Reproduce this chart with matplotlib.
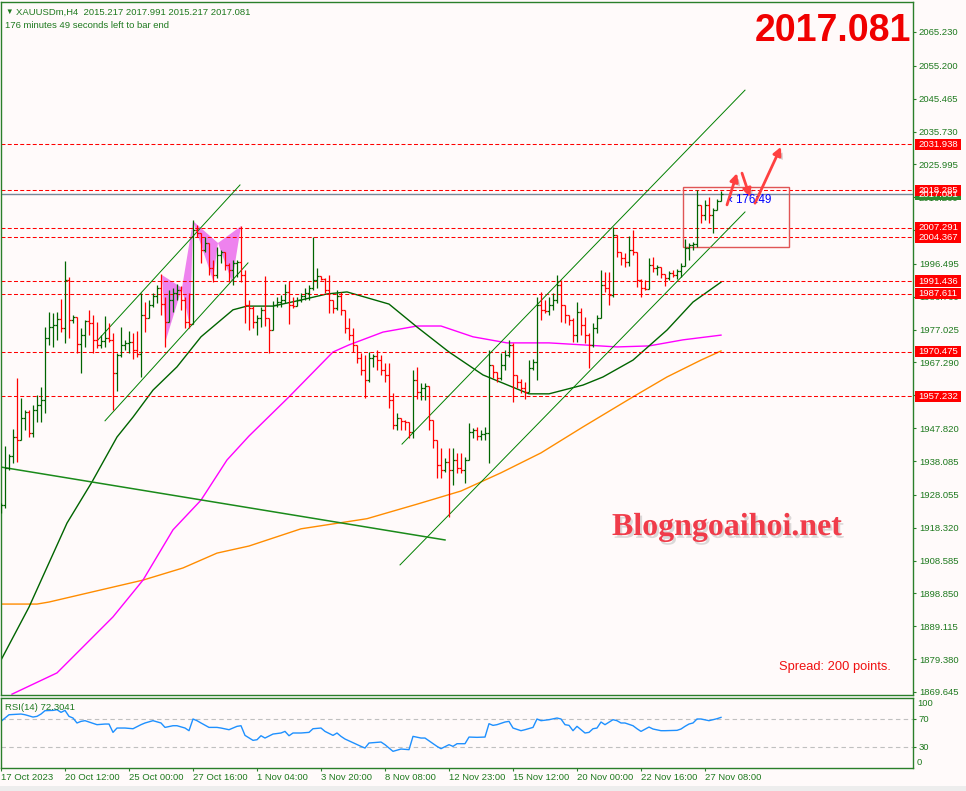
import matplotlib
matplotlib.use('Agg')
import matplotlib.pyplot as plt
import matplotlib.patheffects as pe
from matplotlib.patches import Polygon, Rectangle
from matplotlib.transforms import blended_transform_factory
import numpy as np

plt.rcParams['font.family'] = ['Liberation Sans', 'DejaVu Sans']

BG = '#FFFAFA'
FRAME = '#2A7F2A'
TXT = '#1F7A1F'
UP = '#006400'
DOWN = '#FF0000'

# XAUUSDm H4 bars (open = previous close)
first_open = 1923.6
highs = [1925.7, 1942.5, 1940.2, 1947.6, 1962.7, 1956.8, 1953.2, 1953.2, 1954.7, 1957.7,
         1960.0, 1977.8, 1982.3, 1982.0, 1982.3, 1986.1, 1997.4, 1992.6, 1981.4, 1980.8,
         1977.5, 1979.9, 1982.9, 1981.4, 1979.3, 1975.4, 1981.1, 1979.0, 1976.0, 1970.1,
         1977.8, 1974.0, 1976.6, 1976.0, 1976.6, 1987.9, 1985.2, 1985.8, 1987.9, 1990.3,
         1993.5, 1986.7, 1988.8, 1989.4, 1990.5, 1990.0, 1986.7, 1987.9, 2009.5, 2008.0,
         2005.7, 2004.5, 2000.6, 1997.7, 2001.5, 2000.6, 2000.0, 1996.8, 1997.7, 1997.7,
         2007.7, 1994.7, 1985.8, 1984.0, 1981.4, 1983.7, 1992.9, 1979.9, 1985.5, 1986.7,
         1987.3, 1990.5, 1991.4, 1986.7, 1986.7, 1987.9, 1989.4, 1990.3, 2004.5, 1995.3,
         1992.9, 1992.3, 1993.2, 1985.8, 1988.8, 1988.2, 1982.9, 1980.5, 1977.5, 1972.5,
         1970.1, 1969.5, 1970.4, 1969.8, 1971.0, 1969.5, 1967.1, 1967.1, 1958.3, 1952.3,
         1950.8, 1950.2, 1949.4, 1965.1, 1966.0, 1961.2, 1961.2, 1960.3, 1949.4, 1943.4,
         1941.9, 1939.0, 1941.9, 1941.9, 1940.5, 1940.5, 1939.3, 1949.4, 1947.9, 1948.2,
         1947.3, 1948.2, 1971.0, 1966.5, 1964.5, 1970.1, 1971.0, 1974.0, 1973.1, 1963.6,
         1962.4, 1961.5, 1968.0, 1968.3, 1986.7, 1988.2, 1985.8, 1986.7, 1987.9, 1993.2,
         1991.7, 1984.3, 1981.4, 1980.5, 1985.2, 1983.4, 1980.8, 1976.0, 1979.0, 1981.4,
         1994.7, 1994.1, 1994.1, 2007.4, 2004.5, 2000.0, 1999.7, 2004.8, 2006.6, 2000.0,
         1992.0, 1991.7, 1998.3, 1998.6, 1996.2, 1995.6, 1993.5, 1994.4, 1994.7, 1995.0,
         1996.8, 2003.9, 2002.7, 2003.0, 2018.4, 2014.0, 2015.4, 2016.3, 2013.1, 2015.7,
         2017.991]
lows = [1922.7, 1924.2, 1935.4, 1937.5, 1937.8, 1944.9, 1947.3, 1945.2, 1945.2, 1949.7,
        1949.7, 1952.3, 1972.5, 1971.9, 1974.0, 1976.3, 1973.1, 1974.6, 1979.0, 1970.1,
        1964.2, 1971.9, 1975.4, 1970.1, 1971.6, 1971.6, 1971.9, 1973.4, 1953.2, 1958.8,
        1968.9, 1971.0, 1970.1, 1968.3, 1968.9, 1963.0, 1976.3, 1980.5, 1983.7, 1984.9,
        1981.4, 1971.9, 1979.9, 1982.3, 1985.8, 1982.9, 1977.5, 1977.5, 1979.0, 2004.5,
        1996.8, 2000.0, 1993.2, 1991.1, 1992.3, 1996.8, 1994.7, 1991.1, 1990.3, 1992.6,
        1991.1, 1979.0, 1976.9, 1977.5, 1975.4, 1977.8, 1978.1, 1970.1, 1976.9, 1983.7,
        1983.7, 1984.9, 1978.7, 1983.4, 1984.9, 1985.2, 1985.8, 1985.8, 1988.8, 1989.4,
        1991.7, 1987.9, 1982.0, 1982.0, 1982.9, 1981.4, 1976.0, 1974.0, 1970.4, 1967.1,
        1963.6, 1956.8, 1961.5, 1966.0, 1965.1, 1963.6, 1961.5, 1953.8, 1947.6, 1947.3,
        1947.3, 1947.3, 1944.9, 1944.9, 1956.5, 1956.2, 1956.2, 1947.3, 1941.9, 1933.1,
        1933.1, 1934.8, 1921.5, 1931.0, 1934.5, 1934.5, 1931.6, 1938.4, 1944.9, 1944.3,
        1944.3, 1944.3, 1937.5, 1962.7, 1961.5, 1962.1, 1965.1, 1968.9, 1955.6, 1959.7,
        1958.3, 1956.5, 1960.6, 1965.1, 1962.1, 1979.9, 1982.0, 1981.4, 1982.9, 1984.9,
        1979.3, 1979.0, 1978.4, 1973.4, 1973.4, 1975.4, 1973.1, 1965.7, 1971.9, 1976.0,
        1980.8, 1988.2, 1984.3, 1986.7, 1998.6, 1996.2, 1995.6, 1995.9, 1999.1, 1989.7,
        1986.7, 1988.8, 1989.1, 1994.1, 1993.2, 1992.3, 1990.0, 1991.7, 1992.6, 1992.0,
        1992.6, 1995.9, 1997.7, 2000.6, 2001.5, 2008.6, 2009.5, 2008.6, 2005.7, 2012.5,
        2015.217]
closes = [1925.1, 1936.0, 1939.6, 1945.2, 1944.3, 1950.8, 1952.6, 1946.4, 1953.2, 1954.7,
          1956.2, 1974.6, 1977.8, 1978.4, 1980.2, 1977.5, 1991.7, 1979.9, 1980.8, 1972.8,
          1975.4, 1979.6, 1979.0, 1974.0, 1972.5, 1973.7, 1974.6, 1974.0, 1964.2, 1969.5,
          1972.5, 1973.1, 1973.4, 1971.0, 1969.8, 1981.4, 1980.5, 1984.3, 1987.0, 1989.4,
          1984.6, 1979.3, 1985.8, 1987.9, 1988.8, 1985.8, 1979.3, 1978.7, 2006.6, 2005.7,
          2000.6, 2002.7, 1995.3, 1993.2, 1999.1, 2000.0, 1996.2, 1994.7, 1996.8, 1997.1,
          1993.2, 1984.3, 1983.4, 1979.3, 1980.5, 1982.9, 1980.5, 1976.9, 1984.3, 1985.2,
          1985.8, 1988.2, 1984.3, 1984.0, 1985.8, 1987.0, 1987.9, 1989.4, 1991.7, 1992.9,
          1992.0, 1988.8, 1985.8, 1983.4, 1987.0, 1982.9, 1977.5, 1975.4, 1972.5, 1968.6,
          1965.1, 1962.1, 1968.6, 1969.2, 1968.0, 1965.1, 1963.6, 1956.2, 1948.8, 1950.8,
          1950.0, 1949.7, 1946.7, 1962.1, 1958.5, 1959.7, 1960.3, 1950.2, 1944.3, 1936.9,
          1935.4, 1937.8, 1935.4, 1938.4, 1936.0, 1935.4, 1938.4, 1946.7, 1947.3, 1945.5,
          1946.1, 1946.4, 1966.5, 1964.5, 1962.7, 1966.5, 1969.5, 1972.5, 1963.6, 1961.5,
          1959.7, 1958.5, 1965.7, 1967.4, 1984.3, 1982.9, 1982.6, 1984.3, 1985.8, 1990.3,
          1984.3, 1981.4, 1979.9, 1975.4, 1982.3, 1978.4, 1975.4, 1972.5, 1977.5, 1980.5,
          1990.3, 1989.4, 1987.3, 2005.1, 2000.0, 1998.3, 1997.1, 2000.6, 2000.0, 1991.7,
          1989.4, 1989.1, 1996.2, 1995.3, 1995.6, 1993.5, 1992.3, 1993.8, 1993.2, 1994.4,
          1995.9, 2001.2, 2002.1, 2002.4, 2014.0, 2011.0, 2014.0, 2011.0, 2012.5, 2015.2,
          2017.081]

# moving averages (bar index, price) read at points along each curve
ma_green_bars = [0, 7, 16.5, 22.75, 29, 33, 38, 44, 50, 58, 61.5, 68, 75, 81.5, 86.5, 97,
                 104, 112, 120.5, 132, 137, 145.5, 150.5, 158, 166.5, 173, 180]
ma_green_vals = [1879.1, 1894.8, 1919.7, 1931.9, 1945.2, 1951.1, 1959.1, 1966.0, 1974.9,
                 1982.9, 1984.0, 1984.0, 1985.8, 1987.6, 1988.2, 1984.6, 1977.8, 1970.4,
                 1963.6, 1958.0, 1958.0, 1960.6, 1963.0, 1968.0, 1976.9, 1985.2, 1991.1]
ma_magenta_bars = [2.75, 14, 20.5, 28, 35.5, 43, 50, 56.5, 62, 72, 83, 87, 95.5, 104, 110,
                   118, 126.5, 137, 145.5, 154, 162, 170.5, 180]
ma_magenta_vals = [1869.0, 1875.3, 1883.0, 1891.9, 1902.8, 1917.7, 1926.5, 1938.4, 1945.5,
                   1957.1, 1970.4, 1972.5, 1976.3, 1978.1, 1978.1, 1974.9, 1973.1, 1973.1,
                   1972.5, 1971.9, 1972.2, 1974.0, 1975.4]
ma_orange_bars = [0, 9, 12, 25, 35.5, 45.5, 54, 62, 75, 91.5, 104, 115, 125, 135, 145.5,
                  158, 166.5, 175, 180]
ma_orange_vals = [1895.7, 1895.7, 1896.3, 1899.9, 1902.8, 1906.4, 1910.8, 1912.9, 1918.0,
                  1921.0, 1925.3, 1929.2, 1934.6, 1940.5, 1948.2, 1957.1, 1963.0, 1968.0,
                  1970.7]

# RSI(14)
rsi_bars = [0, 1, 2, 5, 6, 8, 9, 10, 11, 13, 14, 15, 16, 17, 18, 19, 20, 21, 24, 26,
            27, 28, 29, 31, 33, 35, 36, 38, 40, 41, 43, 44, 46, 47, 48, 49, 50, 52, 54, 55,
            57, 59, 60, 61, 63, 64, 65, 66, 68, 70, 71, 72, 73, 75, 77, 78, 80, 81, 83, 84,
            85, 86, 90, 91, 92, 95, 96, 98, 100, 102, 103, 105, 106, 109, 110, 112, 113, 114,
            116, 117, 119, 121, 122, 123, 124, 126, 127, 128, 130, 131, 133, 134, 135, 137,
            139, 140, 141, 142, 143, 144, 146, 147, 148, 149, 150, 151, 153, 154, 155, 156,
            158, 159, 160, 162, 163, 165, 166, 169, 170, 171, 172, 173, 174, 175, 177, 178,
            179, 180]
rsi_vals = [66.6, 71.4, 76.1, 77.1, 76.1, 72.8, 73.8, 77.1, 81.9, 82.3, 83.3, 79.5, 82.3,
            73.8, 71.4, 64.3, 66.6, 67.6, 61.9, 62.8, 62.8, 50.9, 57.1, 57.1, 56.1, 61.9,
            64.3, 67.6, 64.3, 58.0, 60.4, 60.4, 57.1, 53.3, 70.0, 67.6, 64.3, 58.0, 58.0,
            57.1, 54.7, 59.5, 60.4, 46.6, 39.5, 40.4, 46.1, 42.8, 48.5, 50.0, 52.3, 46.1,
            50.0, 50.0, 50.9, 56.1, 57.1, 52.3, 46.6, 50.0, 45.2, 41.4, 30.9, 28.5, 35.7,
            37.1, 33.3, 23.8, 27.1, 26.2, 45.2, 42.8, 42.8, 30.9, 27.6, 33.3, 30.9, 34.7,
            34.7, 44.2, 43.8, 44.2, 63.3, 60.9, 61.9, 65.7, 66.6, 57.1, 53.3, 54.7, 58.0,
            70.0, 67.6, 69.0, 71.4, 70.0, 61.9, 60.9, 53.3, 59.5, 50.0, 50.9, 56.1, 57.1,
            65.7, 61.9, 69.0, 67.6, 64.3, 64.3, 60.4, 56.1, 52.3, 58.5, 55.7, 53.3, 53.3,
            53.8, 55.7, 59.5, 62.8, 64.3, 70.0, 70.0, 67.6, 69.0, 70.4, 72.3]
rsi_last = 72.3041

# drawn objects
levels = [2031.938, 2018.285, 2007.291, 2004.367, 1991.436, 1987.611, 1970.475, 1957.232]
bid = 2017.081
trend_start_bars = [24.25, 26, 100.25, 99.75, 0]
trend_start_prices = [1974.0, 1950.0, 1943.1, 1907.3, 1936.3]
trend_end_bars = [59.75, 61.75, 186, 186, 111]
trend_end_prices = [2019.9, 1996.8, 2048.0, 2011.9, 1914.7]
harmonic_bars = [[40.25, 41.25, 45.25], [45.25, 47.25, 48], [48, 53, 54.25], [54.25, 57.75, 60]]
harmonic_prices = [[1993.2, 1974.0, 1989.4], [1989.4, 1977.8, 2009.2],
                   [2009.2, 1991.7, 2002.7], [2002.7, 1991.1, 2007.7]]
zone_bars = [170.5, 197]
zone_prices = [2001.5, 2019.3]
arrow_tails = [(181.5, 2014.0), (185.25, 2023.4), (188.5, 2014.5)]
arrow_heads = [(184, 2023.4), (187.25, 2016.3), (195, 2031.2)]

price_ticks = [2065.230, 2055.200, 2045.465, 2035.730, 2025.995, 2016.260, 2006.525,
               1996.495, 1986.760, 1977.025, 1967.290, 1957.555, 1947.820, 1938.085,
               1928.055, 1918.320, 1908.585, 1898.850, 1889.115, 1879.380, 1869.645]
date_bars = [0, 16, 32, 48, 64, 80, 96, 112, 128, 144, 160, 176]
date_labels = ['17 Oct 2023', '20 Oct 12:00', '25 Oct 00:00', '27 Oct 16:00', '1 Nov 04:00',
               '3 Nov 20:00', '8 Nov 08:00', '12 Nov 23:00', '15 Nov 12:00', '20 Nov 00:00',
               '22 Nov 16:00', '27 Nov 08:00']

W, H = 966, 791


def px_box(left, top, right, bottom):
    return [left / W, 1 - bottom / H, (right - left) / W, (bottom - top) / H]


fig = plt.figure(figsize=(W / 100, H / 100), dpi=100)
fig.patch.set_facecolor(BG)
ax = fig.add_axes(px_box(0.5, 2, 913, 695))
rsi = fig.add_axes(px_box(0.5, 698, 913, 768))

for a in (ax, rsi):
    a.set_facecolor(BG)
    a.set_xlim(-0.125, 228)
    for s in a.spines.values():
        s.set_color(FRAME)
        s.set_linewidth(1.0)

ax.set_ylim(1868.75, 2074.12)

# --- OHLC bars ---
closes = np.array(closes)
opens = np.r_[first_open, closes[:-1]]
opens[-1] = 2015.217
hi = np.maximum(highs, np.maximum(opens, closes))
lo = np.minimum(lows, np.minimum(opens, closes))
idx = np.arange(len(closes))
cols = np.where(closes >= opens, UP, DOWN)
ax.vlines(idx, lo, hi, colors=cols, lw=0.9, zorder=4)
ax.hlines(opens, idx - 0.45, idx, colors=cols, lw=0.9, zorder=4)
ax.hlines(closes, idx, idx + 0.45, colors=cols, lw=0.9, zorder=4)

# harmonic pattern triangles
for bx, py in zip(harmonic_bars, harmonic_prices):
    ax.add_patch(Polygon(list(zip(bx, py)), closed=True, fc='#EE82EE', ec='none', zorder=1))

# moving averages
ax.plot(ma_orange_bars, ma_orange_vals, color='#FF8C00', lw=1.0, zorder=2)
ax.plot(ma_magenta_bars, ma_magenta_vals, color='#FF00FF', lw=1.0, zorder=2)
ax.plot(ma_green_bars, ma_green_vals, color='#006400', lw=1.0, zorder=2)

# trend lines / channels
for k in range(len(trend_start_bars)):
    lw = 1.1 if k == 4 else 0.7
    ax.plot([trend_start_bars[k], trend_end_bars[k]], [trend_start_prices[k], trend_end_prices[k]],
            color='#008000' if k < 4 else '#1A8A1A', lw=lw, zorder=3)

# horizontal levels
for lvl in levels:
    ax.axhline(lvl, color='red', lw=0.75, ls=(0, (3.8, 2.2)), zorder=2)
ax.axhline(bid, color='#778899', lw=1.0, zorder=2)

# zone box + arrows
ax.add_patch(Rectangle((zone_bars[0], zone_prices[0]), zone_bars[1] - zone_bars[0],
                       zone_prices[1] - zone_prices[0], fill=False, ec='#E05555', lw=1.0,
                       zorder=3))
for tail, head in zip(arrow_tails, arrow_heads):
    an = ax.annotate('', xy=head, xytext=tail,
                     arrowprops=dict(arrowstyle='-|>', color='#FF4040', lw=2.0,
                                     mutation_scale=12, shrinkA=0, shrinkB=0), zorder=6)
    an.arrow_patch.set_path_effects([pe.SimplePatchShadow(offset=(2, -2), alpha=0.25), pe.Normal()])

ax.text(182, bid, '\u2039 176:49', color='blue', fontsize=8.3, ha='left', va='top', zorder=7)

# price axis
ax.set_xticks([])
ax.yaxis.tick_right()
ax.set_yticks(price_ticks)
ax.set_yticklabels(['%.3f' % t for t in price_ticks])
ax.tick_params(axis='y', direction='out', length=2.2, width=0.8, color=FRAME,
               labelcolor=TXT, labelsize=6.8, pad=2)

# price labels on the right
blend = blended_transform_factory(ax.transAxes, ax.transData)
box_x0, box_w, box_h = 1.0022, 0.0504, 3.3


def price_label(value, face):
    ax.add_patch(Rectangle((box_x0, value - box_h / 2), box_w, box_h, transform=blend,
                           fc=face, ec='none', clip_on=False, zorder=9))
    ax.text(box_x0 + box_w / 2, value, '%.3f' % value, transform=blend, color='white',
            fontsize=6.8, ha='center', va='center', clip_on=False, zorder=10)


price_label(bid, '#2E8B2E')
for lvl in levels:
    price_label(lvl, '#FF0000')

# --- RSI panel ---
rsi.set_ylim(0, 100)
rsi.axhline(70, color='#C0C0C0', lw=0.8, ls=(0, (4, 3)))
rsi.axhline(30, color='#C0C0C0', lw=0.8, ls=(0, (4, 3)))
rsi.plot(rsi_bars, rsi_vals, color='#1E90FF', lw=1.0)
rsi.yaxis.tick_right()
rsi.set_yticks([70, 30])
rsi.set_yticklabels(['70', '30'])
rsi.tick_params(axis='y', direction='out', length=2.2, width=0.8, color=FRAME,
                labelcolor=TXT, labelsize=6.8, pad=2)
rblend = blended_transform_factory(rsi.transAxes, rsi.transData)
rsi.text(1.0045, 98, '100', transform=rblend, color=TXT, fontsize=6.8, va='top', ha='left')
rsi.text(1.0045, 2, '0', transform=rblend, color=TXT, fontsize=6.8, va='bottom', ha='left')
rsi.text(0.005, 0.93, 'RSI(14) %.4f' % rsi_last, transform=rsi.transAxes, color=TXT,
         fontsize=6.8, va='top', ha='left')
rsi.set_xticks(date_bars)
rsi.set_xticklabels(date_labels, ha='left')
rsi.tick_params(axis='x', direction='out', length=2.2, width=0.8, color=FRAME,
                labelcolor=TXT, labelsize=6.8, pad=1.5)

# --- texts ---
fig.text(5 / W, 1 - 12 / H, '\u25bc', color=TXT, fontsize=5.5, va='center', ha='left')
fig.text(16 / W, 1 - 12 / H, 'XAUUSDm,H4  2015.217 2017.991 2015.217 2017.081', color=TXT,
         fontsize=6.8, va='center', ha='left')
fig.text(5 / W, 1 - 25 / H, '176 minutes 49 seconds left to bar end', color=TXT,
         fontsize=6.8, va='center', ha='left')
fig.text(911 / W, 1 - 41 / H, '2017.081', color='#F00000', fontsize=27, fontweight='bold',
         ha='right', va='baseline')
fig.text(612 / W, 1 - 535 / H, 'Blogngoaihoi.net', color='#F03C4A', fontsize=23,
         fontweight='bold', family='Liberation Serif', ha='left', va='baseline',
         path_effects=[pe.withSimplePatchShadow(offset=(1.5, -2), shadow_rgbFace='#999999', alpha=0.35)])
fig.text(891 / W, 1 - 667 / H, 'Spread: 200 points.', color='#F01010', fontsize=9.3,
         ha='right', va='center')

fig.add_artist(Rectangle((0, 0), 1, 5 / H, transform=fig.transFigure, fc='#EDEDED', ec='none'))

fig.savefig('out.png', dpi=100, facecolor=BG)
